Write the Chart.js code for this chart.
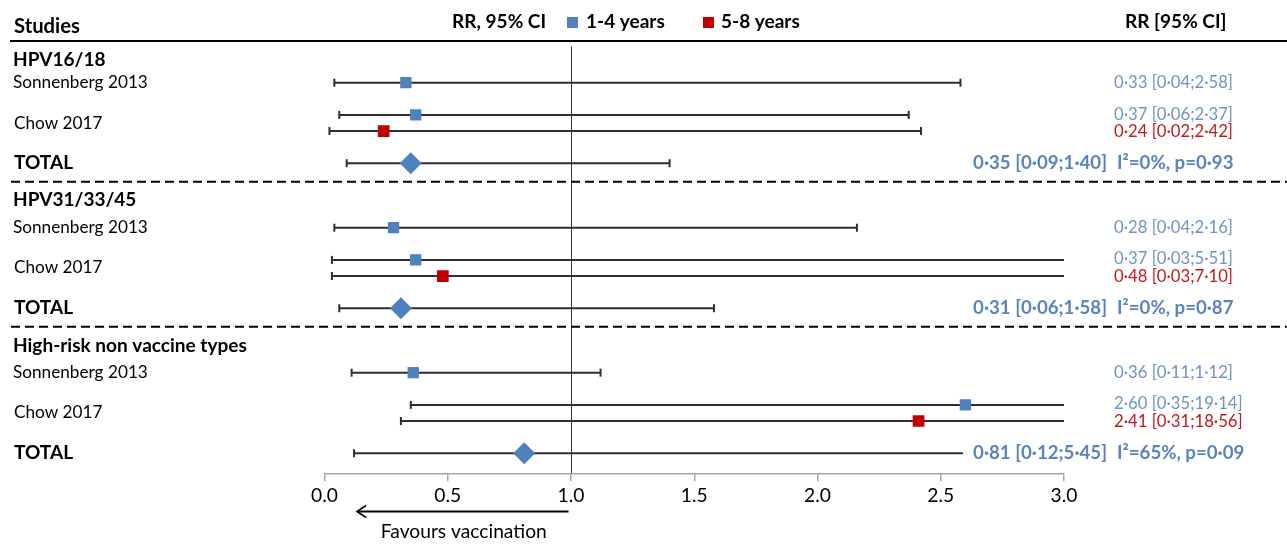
<!DOCTYPE html>
<html><head><meta charset="utf-8">
<script src="https://cdn.jsdelivr.net/npm/chart.js@4.4.1/dist/chart.umd.min.js"></script>
<style>html,body{margin:0;padding:0;background:#fff;}#wrap{width:1287px;height:548px;position:relative;}</style>
</head><body><div id="wrap"><canvas id="c"></canvas></div>
<script>
// ---------- data ----------
const groupNames = ['HPV16/18', 'HPV31/33/45', 'High-risk non vaccine types'];
const studyNames = ['Sonnenberg 2013', 'Chow 2017'];
const seriesNames = ['1-4 years', '5-8 years'];
const sonnRR = [0.33, 0.28, 0.36];
const sonnLo = [0.04, 0.04, 0.11];
const sonnHi = [2.58, 2.16, 1.12];
const chowEarlyRR = [0.37, 0.37, 2.60];
const chowEarlyLo = [0.06, 0.03, 0.35];
const chowEarlyHi = [2.37, 5.51, 19.14];
const chowLateRR = [0.24, 0.48, 2.41];
const chowLateLo = [0.02, 0.03, 0.31];
const chowLateHi = [2.42, 7.10, 18.56];
const totalRR = [0.35, 0.31, 0.81];
const totalLo = [0.09, 0.06, 0.12];
const totalHi = [1.40, 1.58, 5.45];
const totalHiDrawn = [1.40, 1.58, 2.59]; // where the pooled line ends in the picture
const heteroI2 = ['0%', '0%', '65%'];
const heteroP = ['0·93', '0·87', '0·09'];
const xTickValues = [0, 0.5, 1, 1.5, 2, 2.5, 3];

// ---------- style / layout ----------
const BLUE = '#4F81BD', RED = '#C00000';
const TXT_BLUE = '#7093C3', TXT_TOT = '#5A84BA', TXT_RED = '#C0181F';
const FONT = 'Lato';
const GSTEP = 9, R_SONN = 0, R_EARLY = 2, R_LATE = 3, R_TOTAL = 5, R_CHOWLBL = 2.5;
const headerOffsets = [-1.42, -1.72, -1.67];
const XMAX = 3;

function fit(text, weight, target) {
  const c = document.createElement('canvas').getContext('2d');
  c.font = weight + ' 20px ' + FONT;
  return 20 * target / c.measureText(text).width;
}
const nameSize = fit('Sonnenberg 2013', '400', 135);
const headSize = fit('High-risk non vaccine types', '700', 234);
const topSize = fit('Studies', '700', 66);
const valSize = fit('0·33 [0·04;2·58]', '400', 119);
const totSize = fit('0·35 [0·09;1·40]', '700', 134);
const axisSize = fit('Favours vaccination', '400', 166);

const f2 = v => v.toFixed(2).replace('.', '·');
const ci = (r, l, h) => f2(r) + ' [' + f2(l) + ';' + f2(h) + ']';

const rows = [];
groupNames.forEach((g, i) => {
  const b = i * GSTEP;
  rows.push({ y: b + R_SONN, lo: sonnLo[i], hi: sonnHi[i], end: sonnHi[i] });
  rows.push({ y: b + R_EARLY, lo: chowEarlyLo[i], hi: chowEarlyHi[i], end: chowEarlyHi[i] });
  rows.push({ y: b + R_LATE, lo: chowLateLo[i], hi: chowLateHi[i], end: chowLateHi[i] });
  rows.push({ y: b + R_TOTAL, lo: totalLo[i], hi: totalHi[i], end: totalHiDrawn[i] });
});

const blueData = [], redData = [], totData = [];
groupNames.forEach((g, i) => {
  const b = i * GSTEP;
  blueData.push({ x: sonnRR[i], y: b + R_SONN }, { x: chowEarlyRR[i], y: b + R_EARLY });
  redData.push({ x: chowLateRR[i], y: b + R_LATE });
  totData.push({ x: totalRR[i], y: b + R_TOTAL });
});

const forestPlugin = {
  id: 'forest',
  beforeDatasetsDraw(chart) {
    const ctx = chart.ctx, xs = chart.scales.x, ys = chart.scales.y, ca = chart.chartArea;
    ctx.save();
    ctx.strokeStyle = '#3a3a3a'; ctx.lineWidth = 1;
    ctx.beginPath();
    const x1 = Math.round(xs.getPixelForValue(1)) + 0.5;
    ctx.moveTo(x1, ca.top); ctx.lineTo(x1, ca.bottom); ctx.stroke();
    ctx.strokeStyle = '#2e2e2e'; ctx.lineWidth = 2;
    rows.forEach(r => {
      const y = ys.getPixelForValue(r.y);
      const xl = xs.getPixelForValue(r.lo);
      const xr = xs.getPixelForValue(Math.min(r.end, XMAX));
      ctx.beginPath(); ctx.moveTo(xl, y); ctx.lineTo(xr, y); ctx.stroke();
      ctx.beginPath(); ctx.moveTo(xl, y - 4); ctx.lineTo(xl, y + 4); ctx.stroke();
      if (r.end === r.hi && r.hi <= XMAX) {
        ctx.beginPath(); ctx.moveTo(xr, y - 4); ctx.lineTo(xr, y + 4); ctx.stroke();
      }
    });
    ctx.restore();
  },
  afterDraw(chart) {
    const ctx = chart.ctx, xs = chart.scales.x, ys = chart.scales.y;
    const W = chart.width;
    ctx.save();
    ctx.textBaseline = 'middle';
    const txt = (s, x, yv, font, color, align) => {
      ctx.font = font; ctx.fillStyle = color; ctx.textAlign = align || 'left';
      ctx.fillText(s, x, ys.getPixelForValue(yv));
    };
    const bold = s => '700 ' + s + 'px ' + FONT;
    const reg = s => '400 ' + s + 'px ' + FONT;
    txt('Studies', 14, -3.46, bold(topSize), '#000');
    txt('RR, 95% CI', 452, -3.77, bold(headSize), '#000');
    let ly = ys.getPixelForValue(-3.77);
    ctx.fillStyle = BLUE;
    ctx.fillRect(567, ly - 5, 11, 11);
    txt(seriesNames[0], 586, -3.77, bold(headSize), '#000');
    ctx.fillStyle = RED;
    ctx.fillRect(703, ly - 5, 11, 11);
    txt(seriesNames[1], 721, -3.77, bold(headSize), '#000');
    txt('RR [95% CI]', 1125, -3.77, bold(headSize), '#000');
    ctx.strokeStyle = '#000'; ctx.lineWidth = 2;
    let hy = ys.getPixelForValue(-2.59);
    ctx.beginPath(); ctx.moveTo(10, hy); ctx.lineTo(W, hy); ctx.stroke();
    ctx.setLineDash([9, 5]);
    for (let i = 0; i < groupNames.length - 1; i++) {
      const y = ys.getPixelForValue(i * GSTEP + 6.15);
      ctx.beginPath(); ctx.moveTo(11, y); ctx.lineTo(W, y); ctx.stroke();
    }
    ctx.setLineDash([]);
    groupNames.forEach((g, i) => {
      const b = i * GSTEP;
      txt(g, 13, b + headerOffsets[i], bold(headSize), '#000');
      txt(studyNames[0], 13, b + R_SONN, reg(nameSize), '#000');
      txt(studyNames[1], 14, b + R_CHOWLBL, reg(nameSize), '#000');
      txt('TOTAL', 14, b + R_TOTAL, bold(headSize), '#000');
      txt(ci(sonnRR[i], sonnLo[i], sonnHi[i]), 1114, b + R_SONN, reg(valSize), TXT_BLUE);
      txt(ci(chowEarlyRR[i], chowEarlyLo[i], chowEarlyHi[i]), 1114, b + R_EARLY - 0.05, reg(valSize), TXT_BLUE);
      txt(ci(chowLateRR[i], chowLateLo[i], chowLateHi[i]), 1114, b + R_LATE + 0.05, reg(valSize), TXT_RED);
      txt(ci(totalRR[i], totalLo[i], totalHi[i]), 1107, b + R_TOTAL, bold(totSize), TXT_TOT, 'right');
      txt('I²=' + heteroI2[i] + ', p=' + heteroP[i], 1117, b + R_TOTAL, bold(totSize), TXT_TOT);
    });
    const ay = 511.5;
    const ax1 = xs.getPixelForValue(0.99), ax0 = xs.getPixelForValue(0.132);
    ctx.strokeStyle = '#000'; ctx.lineWidth = 2;
    ctx.beginPath(); ctx.moveTo(ax1, ay); ctx.lineTo(ax0, ay); ctx.stroke();
    ctx.lineWidth = 1.6;
    ctx.beginPath(); ctx.moveTo(ax0 + 9, ay - 6); ctx.lineTo(ax0, ay); ctx.lineTo(ax0 + 9, ay + 6); ctx.stroke();
    ctx.font = reg(axisSize); ctx.fillStyle = '#000'; ctx.textAlign = 'center';
    ctx.fillText('Favours vaccination', xs.getPixelForValue(0.565), 531.5);
    ctx.restore();
  }
};

new Chart(document.getElementById('c'), {
  type: 'scatter',
  data: {
    datasets: [
      { label: seriesNames[0], data: blueData, pointStyle: 'rect', pointRadius: 8, backgroundColor: BLUE, borderWidth: 0 },
      { label: seriesNames[1], data: redData, pointStyle: 'rect', pointRadius: 8.3, backgroundColor: RED, borderWidth: 0 },
      { label: 'TOTAL', data: totData, pointStyle: 'rectRot', pointRadius: 11, backgroundColor: BLUE, borderWidth: 0 }
    ]
  },
  options: {
    responsive: true, maintainAspectRatio: false, animation: false, events: [],
    layout: { padding: { left: 324.5, right: 223, top: 46.45, bottom: 0 } },
    plugins: { legend: { display: false }, tooltip: { enabled: false } },
    scales: {
      x: {
        type: 'linear', min: 0, max: XMAX,
        afterBuildTicks: s => { s.ticks = xTickValues.map(v => ({ value: v })); },
        afterFit: s => { s.height = 548 - 473.35; },
        ticks: { callback: v => v.toFixed(1), font: { family: FONT, size: axisSize }, color: '#000', padding: 3, maxRotation: 0 },
        grid: { drawOnChartArea: false, drawTicks: true, tickLength: 8, tickColor: '#A6A6A6', lineWidth: 1.5 },
        border: { color: '#A6A6A6', width: 1.5 }
      },
      y: { type: 'linear', reverse: true, min: -2.25, max: 24.25, display: false }
    }
  },
  plugins: [forestPlugin]
});
</script></body></html>
